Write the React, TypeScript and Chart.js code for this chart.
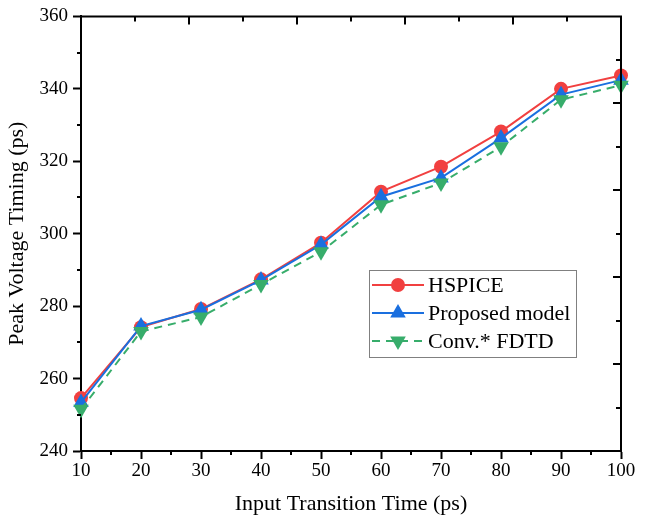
import React, { useEffect, useRef } from "react";
import { Chart, registerables } from "chart.js";

Chart.register(...registerables);

const xValues = [10, 20, 30, 40, 50, 60, 70, 80, 90, 100];
const hspice = [254.6, 274.2, 279.2, 287.4, 297.5, 311.6, 318.5, 328.2, 340.0, 343.7];
const proposed = [253.4, 274.5, 279.0, 287.2, 297.0, 310.2, 315.4, 326.4, 338.4, 342.4];
const convFdtd = [251.5, 273.0, 277.0, 286.0, 295.0, 308.0, 314.0, 324.0, 337.0, 341.0];
const seriesNames = ["HSPICE", "Proposed model", "Conv.* FDTD"];
const xTitle = "Input Transition Time (ps)";
const yTitle = "Peak Voltage Timing (ps)";

const RED = "#F14040";
const BLUE = "#1A6FDF";
const GREEN = "#37AD6B";
const FONT = "'Liberation Serif', 'Times New Roman', serif";

const framePlugin = {
  id: "frame",
  afterDraw(chart: any) {
    const ctx = chart.ctx;
    const { left, right, top, bottom } = chart.chartArea;
    const xs = chart.scales.x;
    const ys = chart.scales.y;
    ctx.save();
    ctx.strokeStyle = "#000";
    ctx.lineWidth = 2;
    ctx.beginPath();
    ctx.moveTo(left - 1, top);
    ctx.lineTo(right, top);
    ctx.lineTo(right, bottom + 1);
    ctx.stroke();
    ctx.beginPath();
    for (let v = 15; v < 100; v += 10) {
      const px = Math.round(xs.getPixelForValue(v));
      ctx.moveTo(px, bottom);
      ctx.lineTo(px, bottom + 4);
    }
    for (let v = 250; v < 360; v += 20) {
      const py = Math.round(ys.getPixelForValue(v));
      ctx.moveTo(left, py);
      ctx.lineTo(left - 4, py);
    }
    for (let i = 1; i < 10; i++) {
      const len = i % 2 === 0 ? 8 : 5;
      const px = Math.round(left + ((right - left) * i) / 10);
      ctx.moveTo(px, top);
      ctx.lineTo(px, top + len);
      const py = Math.round(top + ((bottom - top) * i) / 10);
      ctx.moveTo(right, py);
      ctx.lineTo(right - len, py);
    }
    ctx.stroke();

    const bx = 369, by = 270, bw = 207, bh = 87;
    ctx.fillStyle = "#fff";
    ctx.fillRect(bx, by, bw, bh);
    ctx.strokeStyle = "#808080";
    ctx.lineWidth = 1;
    ctx.strokeRect(bx + 0.5, by + 0.5, bw, bh);
    const colors = [RED, BLUE, GREEN];
    const rows = [285, 313, 341];
    ctx.font = `22px ${FONT}`;
    ctx.textBaseline = "middle";
    ctx.textAlign = "left";
    rows.forEach((ry, i) => {
      ctx.strokeStyle = colors[i];
      ctx.lineWidth = 2;
      ctx.setLineDash(i === 2 ? [8, 6] : []);
      ctx.beginPath();
      ctx.moveTo(372, ry);
      ctx.lineTo(424, ry);
      ctx.stroke();
      ctx.setLineDash([]);
      ctx.fillStyle = colors[i];
      const cx = 398;
      ctx.beginPath();
      if (i === 0) {
        ctx.arc(cx, ry, 7, 0, Math.PI * 2);
      } else if (i === 1) {
        const r = 9;
        ctx.moveTo(cx, ry - r);
        ctx.lineTo(cx + r * 0.866, ry + r / 2);
        ctx.lineTo(cx - r * 0.866, ry + r / 2);
        ctx.closePath();
      } else {
        const r = 9;
        ctx.moveTo(cx, ry + r);
        ctx.lineTo(cx + r * 0.866, ry - r / 2);
        ctx.lineTo(cx - r * 0.866, ry - r / 2);
        ctx.closePath();
      }
      ctx.fill();
      ctx.fillStyle = "#000";
      ctx.fillText(seriesNames[i], 428, ry + 1);
    });
    ctx.restore();
  },
};

export default function App() {
  const ref = useRef<HTMLCanvasElement | null>(null);
  useEffect(() => {
    document.body.style.margin = "0";
    const toPts = (arr: number[]) => xValues.map((x, i) => ({ x, y: arr[i] }));
    const chart = new Chart(ref.current as HTMLCanvasElement, {
      type: "line",
      data: {
        datasets: [
          {
            label: seriesNames[0],
            data: toPts(hspice),
            borderColor: RED,
            backgroundColor: RED,
            borderWidth: 2,
            pointStyle: "circle",
            pointRadius: 7,
            pointBorderWidth: 0,
            clip: false,
            order: 3,
          },
          {
            label: seriesNames[1],
            data: toPts(proposed),
            borderColor: BLUE,
            backgroundColor: BLUE,
            borderWidth: 2,
            pointStyle: "triangle",
            pointRadius: 9,
            pointBorderWidth: 0,
            clip: false,
            order: 2,
          },
          {
            label: seriesNames[2],
            data: toPts(convFdtd),
            borderColor: GREEN,
            backgroundColor: GREEN,
            borderWidth: 2,
            borderDash: [8, 6],
            pointStyle: "triangle",
            pointRotation: 180,
            pointRadius: 9,
            pointBorderWidth: 0,
            clip: false,
            order: 1,
          },
        ],
      },
      options: {
        responsive: false,
        animation: false,
        layout: { padding: { top: 16, right: 25, left: 0, bottom: 0 } },
        plugins: { legend: { display: false }, tooltip: { enabled: false } },
        scales: {
          x: {
            type: "linear",
            min: 10,
            max: 100,
            afterFit: (s: any) => {
              s.height = 70;
            },
            ticks: { stepSize: 10, color: "#000", font: { family: FONT, size: 19 }, padding: 1, maxRotation: 0 },
            grid: { drawOnChartArea: false, drawTicks: true, tickLength: 8, tickColor: "#000", tickWidth: 2, color: "#000" },
            border: { display: true, color: "#000", width: 2 },
            title: { display: true, text: xTitle, color: "#000", font: { family: FONT, size: 22 }, padding: { top: 10 } },
          },
          y: {
            type: "linear",
            min: 240,
            max: 360,
            afterFit: (s: any) => {
              s.width = 81;
            },
            ticks: { stepSize: 20, color: "#000", font: { family: FONT, size: 19 }, padding: 5 },
            grid: { drawOnChartArea: false, drawTicks: true, tickLength: 8, tickColor: "#000", tickWidth: 2, color: "#000" },
            border: { display: true, color: "#000", width: 2 },
            title: { display: true, text: yTitle, color: "#000", font: { family: FONT, size: 22 }, padding: { bottom: 4 } },
          },
        },
      },
      plugins: [framePlugin],
    });
    return () => chart.destroy();
  }, []);
  return (
    <div style={{ width: 646, height: 521 }}>
      <canvas ref={ref} width={646} height={521} />
    </div>
  );
}
